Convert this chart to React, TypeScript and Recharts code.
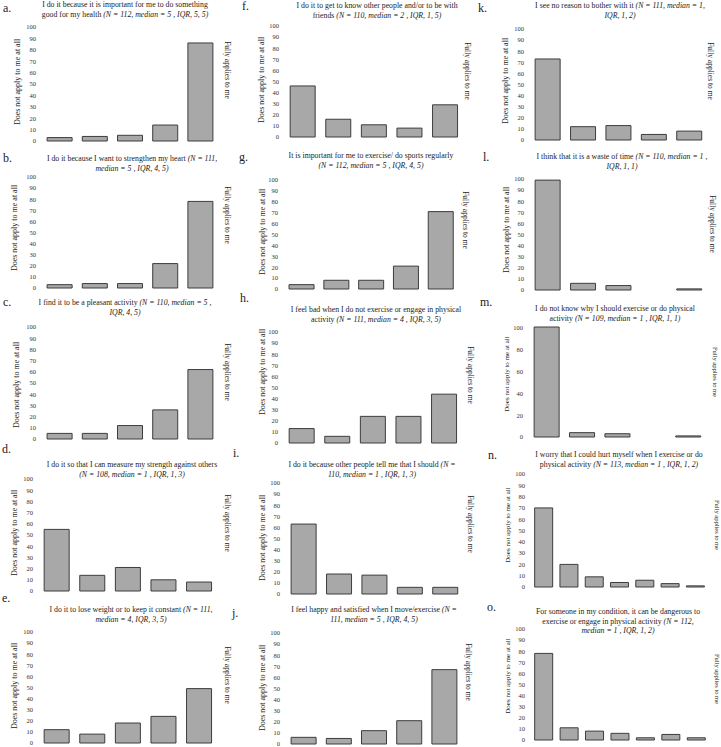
import React from 'react';
import { BarChart, Bar, XAxis, YAxis } from 'recharts';

// Response options (Likert points)
const fivePoints = ['1', '2', '3', '4', '5'];
const sevenPoints = ['1', '2', '3', '4', '5', '6', '7'];

const ticksBy10 = [0, 10, 20, 30, 40, 50, 60, 70, 80, 90, 100];
const ticksBy20 = [0, 20, 40, 60, 80, 100];

// Counts per answer
const healthCounts = [3, 4, 5, 14, 86];
const heartCounts = [3, 4, 4, 22, 78];
const pleasantCounts = [5, 5, 12, 26, 62];
const strengthCounts = [55, 14, 21, 10, 8];
const weightCounts = [12, 8, 18, 24, 49];
const friendsCounts = [46, 16, 11, 8, 29];
const regularlyCounts = [4, 8, 8, 21, 71];
const feelBadCounts = [13, 6, 24, 24, 44];
const othersTellCounts = [63, 18, 17, 6, 6];
const happyCounts = [6, 5, 12, 21, 67];
const noReasonCounts = [73, 12, 13, 5, 8];
const wasteCounts = [99, 6, 4, 0, 1];
const dontKnowCounts = [101, 4, 3, 0, 1];
const hurtCounts = [70, 20, 9, 4, 6, 3, 1];
const dangerousCounts = [78, 11, 8, 6, 2, 5, 2];

type Line = [string, string];

interface Panel {
  letter: string;
  title: Line[];
  cats: string[];
  values: number[];
  ticks: number[];
  plotX: number;
  plotW: number;
  plotTop: number;
  plotBottom: number;
  titleX: number;
  titleY: number;
  letterX: number;
  letterY: number;
  leftLabel: [number, number];
  rightLabel: [number, number];
  labelSize: number;
}

const panels: Panel[] = [
  {
    letter: 'a.',
    title: [
      ['I do it because it is important for me to do something', ''],
      ['good for my health ', '(N = 112, median = 5 , IQR, 5, 5)'],
    ],
    cats: fivePoints, values: healthCounts, ticks: ticksBy10,
    plotX: 42, plotW: 176, plotTop: 27, plotBottom: 141,
    titleX: 125, titleY: 5, letterX: 3, letterY: 8,
    leftLabel: [18, 82], rightLabel: [227, 70], labelSize: 8,
  },
  {
    letter: 'b.',
    title: [
      ['I do it because I want to strengthen my heart ', '(N = 111,'],
      ['', 'median = 5 , IQR, 4, 5)'],
    ],
    cats: fivePoints, values: heartCounts, ticks: ticksBy10,
    plotX: 42, plotW: 176, plotTop: 177, plotBottom: 288,
    titleX: 132, titleY: 159, letterX: 3, letterY: 158,
    leftLabel: [15, 228], rightLabel: [227, 215], labelSize: 8,
  },
  {
    letter: 'c.',
    title: [
      ['I find it to be a pleasant activity ', '(N = 110, median = 5 ,'],
      ['', 'IQR, 4, 5)'],
    ],
    cats: fivePoints, values: pleasantCounts, ticks: ticksBy10,
    plotX: 42, plotW: 176, plotTop: 327, plotBottom: 439,
    titleX: 125, titleY: 303, letterX: 3, letterY: 302,
    leftLabel: [17, 385], rightLabel: [227, 372], labelSize: 8,
  },
  {
    letter: 'd.',
    title: [
      ['I do it so that I can measure my strength against others', ''],
      ['', '(N = 108, median = 1 , IQR, 1, 3)'],
    ],
    cats: fivePoints, values: strengthCounts, ticks: ticksBy10,
    plotX: 39, plotW: 178, plotTop: 479, plotBottom: 591,
    titleX: 132, titleY: 465, letterX: 2, letterY: 449,
    leftLabel: [15, 533], rightLabel: [227, 523], labelSize: 8,
  },
  {
    letter: 'e.',
    title: [
      ['I do it to lose weight or to keep it constant ', '(N = 111,'],
      ['', 'median = 4, IQR, 3, 5)'],
    ],
    cats: fivePoints, values: weightCounts, ticks: ticksBy10,
    plotX: 39, plotW: 178, plotTop: 632, plotBottom: 743,
    titleX: 131, titleY: 610, letterX: 2, letterY: 598,
    leftLabel: [15, 686], rightLabel: [227, 675], labelSize: 8,
  },
  {
    letter: 'f.',
    title: [
      ['I do it to get to know other people and/or to be with', ''],
      ['friends ', '(N = 110, median = 2 , IQR, 1, 5)'],
    ],
    cats: fivePoints, values: friendsCounts, ticks: ticksBy10,
    plotX: 285, plotW: 178, plotTop: 26, plotBottom: 137,
    titleX: 377, titleY: 6, letterX: 242, letterY: 6,
    leftLabel: [262, 80], rightLabel: [467, 71], labelSize: 8,
  },
  {
    letter: 'g.',
    title: [
      ['It is important for me to exercise/ do sports regularly', ''],
      ['', '(N = 112, median = 5 , IQR, 4, 5)'],
    ],
    cats: fivePoints, values: regularlyCounts, ticks: ticksBy10,
    plotX: 284, plotW: 174, plotTop: 180, plotBottom: 289,
    titleX: 371, titleY: 156, letterX: 239, letterY: 157,
    leftLabel: [263, 232], rightLabel: [465, 220], labelSize: 8,
  },
  {
    letter: 'h.',
    title: [
      ['I feel bad when I do not exercise or engage in physical', ''],
      ['activity ', '(N = 111, median = 4 , IQR, 3, 5)'],
    ],
    cats: fivePoints, values: feelBadCounts, ticks: ticksBy10,
    plotX: 284, plotW: 178, plotTop: 332, plotBottom: 443,
    titleX: 376, titleY: 310, letterX: 240, letterY: 298,
    leftLabel: [263, 372], rightLabel: [470, 375], labelSize: 8,
  },
  {
    letter: 'i.',
    title: [
      ['I do it because other people tell me that I should ', '(N ='],
      ['', '110, median = 1 , IQR, 1, 3)'],
    ],
    cats: fivePoints, values: othersTellCounts, ticks: ticksBy10,
    plotX: 286, plotW: 177, plotTop: 483, plotBottom: 594,
    titleX: 372, titleY: 465, letterX: 233, letterY: 453,
    leftLabel: [263, 538], rightLabel: [470, 524], labelSize: 8,
  },
  {
    letter: 'j.',
    title: [
      ['I feel happy and satisfied when I move/exercise ', '(N ='],
      ['', '111, median = 5 , IQR, 4, 5)'],
    ],
    cats: fivePoints, values: happyCounts, ticks: ticksBy10,
    plotX: 286, plotW: 176, plotTop: 633, plotBottom: 744,
    titleX: 374, titleY: 610, letterX: 232, letterY: 613,
    leftLabel: [263, 688], rightLabel: [468, 672], labelSize: 8,
  },
  {
    letter: 'k.',
    title: [
      ['I see no reason to bother with it ', '(N = 111, median = 1,'],
      ['', 'IQR, 1, 2)'],
    ],
    cats: fivePoints, values: noReasonCounts, ticks: ticksBy10,
    plotX: 530, plotW: 177, plotTop: 29, plotBottom: 140,
    titleX: 620, titleY: 6, letterX: 478, letterY: 8,
    leftLabel: [506, 81], rightLabel: [710, 71], labelSize: 8,
  },
  {
    letter: 'l.',
    title: [
      ['I think that it is a waste of time ', '(N = 110, median = 1 ,'],
      ['', 'IQR, 1, 1)'],
    ],
    cats: fivePoints, values: wasteCounts, ticks: ticksBy10,
    plotX: 530, plotW: 177, plotTop: 179, plotBottom: 290,
    titleX: 622, titleY: 157, letterX: 483, letterY: 157,
    leftLabel: [507, 230], rightLabel: [712, 224], labelSize: 8,
  },
  {
    letter: 'm.',
    title: [
      ['I do not know why I should exercise or do physical', ''],
      ['activity ', '(N = 109, median = 1 , IQR, 1, 1)'],
    ],
    cats: fivePoints, values: dontKnowCounts, ticks: ticksBy20,
    plotX: 529, plotW: 177, plotTop: 327, plotBottom: 437,
    titleX: 615, titleY: 309, letterX: 480, letterY: 302,
    leftLabel: [507, 374], rightLabel: [715, 372], labelSize: 7,
  },
  {
    letter: 'n.',
    title: [
      ['I worry that I could hurt myself when I exercise or do', ''],
      ['physical activity ', '(N = 113, median = 1 , IQR, 1, 2)'],
    ],
    cats: sevenPoints, values: hurtCounts, ticks: ticksBy10,
    plotX: 531, plotW: 177, plotTop: 474, plotBottom: 587,
    titleX: 619, titleY: 455, letterX: 488, letterY: 455,
    leftLabel: [508, 525], rightLabel: [717, 525], labelSize: 7,
  },
  {
    letter: 'o.',
    title: [
      ['For someone in my condition, it can be dangerous to', ''],
      ['exercise or engage in physical activity ', '(N = 112,'],
      ['', 'median = 1 , IQR, 1, 2)'],
    ],
    cats: sevenPoints, values: dangerousCounts, ticks: ticksBy10,
    plotX: 531, plotW: 178, plotTop: 629, plotBottom: 740,
    titleX: 618, titleY: 612, letterX: 487, letterY: 607,
    leftLabel: [508, 676], rightLabel: [717, 679], labelSize: 7,
  },
];

const AXIS_W = 32;
const PAD = 4;
const TEXT = '#222';

function PanelChart({ p }: { p: Panel }) {
  const data = p.cats.map((c, i) => ({ answer: c, count: p.values[i] }));
  const plotH = p.plotBottom - p.plotTop;
  return (
    <>
      <div style={{ position: 'absolute', left: p.letterX, top: p.letterY - 7, fontSize: 12, lineHeight: '14px', color: TEXT }}>
        {p.letter}
      </div>
      <div
        style={{
          position: 'absolute',
          left: p.titleX,
          top: p.titleY - 4.75,
          transform: 'translateX(-50%)',
          textAlign: 'center',
          fontSize: 7.8,
          lineHeight: '9.5px',
          whiteSpace: 'nowrap',
          color: TEXT,
        }}
      >
        {p.title.map(([plain, italic], i) => (
          <div key={i}>
            {plain}
            {italic && <i>{italic}</i>}
          </div>
        ))}
      </div>
      <div
        style={{
          position: 'absolute',
          left: p.leftLabel[0],
          top: p.leftLabel[1],
          transform: 'translate(-50%, -50%) rotate(-90deg)',
          fontSize: p.labelSize,
          lineHeight: 1,
          whiteSpace: 'nowrap',
          color: TEXT,
        }}
      >
        Does not apply to me at all
      </div>
      <div
        style={{
          position: 'absolute',
          left: p.rightLabel[0],
          top: p.rightLabel[1],
          transform: 'translate(-50%, -50%) rotate(90deg)',
          fontSize: p.labelSize - 0.5,
          lineHeight: 1,
          whiteSpace: 'nowrap',
          color: TEXT,
        }}
      >
        Fully applies to me
      </div>
      <div style={{ position: 'absolute', left: p.plotX - AXIS_W, top: p.plotTop - PAD }}>
        <BarChart
          width={AXIS_W + p.plotW}
          height={plotH + PAD * 2}
          data={data}
          margin={{ top: PAD, right: 0, bottom: PAD, left: 0 }}
          barCategoryGap="14.5%"
        >
          <XAxis dataKey="answer" hide />
          <YAxis
            width={AXIS_W}
            domain={[0, (max: number) => Math.max(100, max)]}
            ticks={p.ticks}
            interval={0}
            axisLine={false}
            tickLine={false}
            tickSize={0}
            tickMargin={6}
            tick={{ fontSize: 6.5, fill: '#333' }}
          />
          <Bar dataKey="count" fill="#a8a8a8" stroke="#3d3d3d" strokeWidth={1} isAnimationActive={false} />
        </BarChart>
      </div>
    </>
  );
}

export default function App() {
  return (
    <div
      style={{
        position: 'absolute',
        left: 0,
        top: 0,
        width: 721,
        height: 747,
        background: '#fff',
        overflow: 'hidden',
        fontFamily: '"Liberation Serif", "Times New Roman", serif',
      }}
    >
      {panels.map((p) => (
        <PanelChart key={p.letter} p={p} />
      ))}
    </div>
  );
}
